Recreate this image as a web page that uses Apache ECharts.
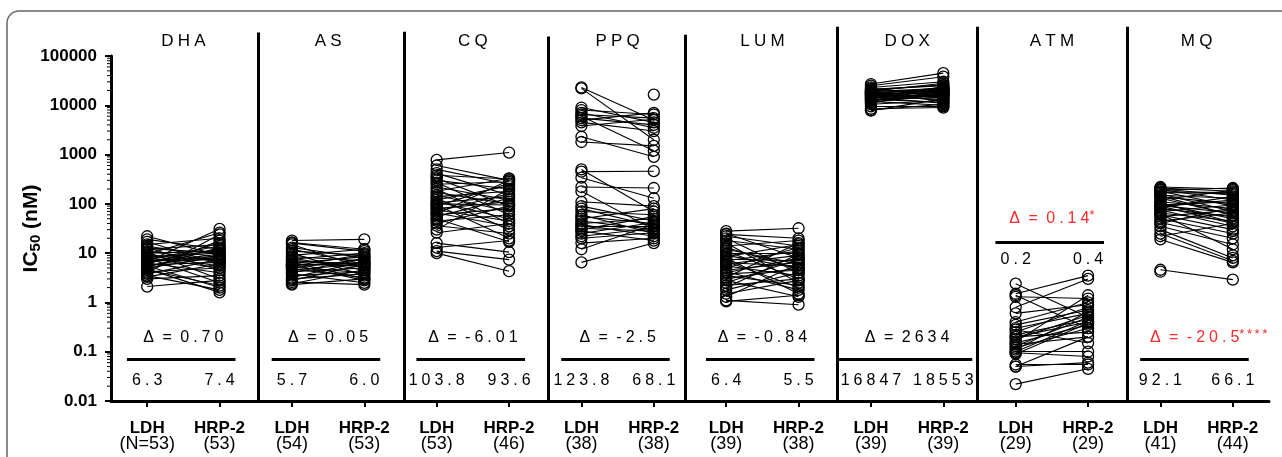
<!DOCTYPE html>
<html>
<head>
<meta charset="utf-8">
<script src="https://cdn.jsdelivr.net/npm/echarts@6/dist/echarts.min.js"></script>
<style>
html, body { margin: 0; padding: 0; background: #fff; }
#main { width: 1282px; height: 457px; }
</style>
</head>
<body>
<div id="main"></div>
<script>
// panels / labels
var panelNames = ['DHA', 'AS', 'CQ', 'PPQ', 'LUM', 'DOX', 'ATM', 'MQ'];
var groupLabels = ['LDH', 'HRP-2'];
var nLabels = ['(N=53)', '(53)', '(54)', '(53)', '(53)', '(46)', '(38)', '(38)',
               '(39)', '(38)', '(39)', '(39)', '(29)', '(29)', '(41)', '(44)'];
var deltaText = ['Δ = 0.70', 'Δ = 0.05', 'Δ = -6.01', 'Δ = -2.5', 'Δ = -0.84', 'Δ = 2634', 'Δ = 0.14', 'Δ = -20.5'];
var deltaStars = ['', '', '', '', '', '', '*', '****'];
var medianLdh = ['6.3', '5.7', '103.8', '123.8', '6.4', '16847', '0.2', '92.1'];
var medianHrp = ['7.4', '6.0', '93.6', '68.1', '5.5', '18553', '0.4', '66.1'];
var yTickLabels = ['0.01', '0.1', '1', '10', '100', '1000', '10000', '100000'];

// IC50 values (nM), paired by index; null = no value in that group
var dhaLdh = [22, 19, 17, 15, 14, 13, 12.5, 12, 11, 10.5, 10, 9.5, 9.2, 9, 8.5, 8.2, 8, 7.5, 7.2, 7, 6.8, 6.6, 6.5, 6.3, 6, 5.8, 5.6, 5.5, 5.2, 5, 4.8, 4.6, 4.5, 4.2, 4, 3.8, 3.5, 3.3, 3, 2.1];
var dhaHrp = [9, 12, 6, 20, 8, 4.5, 10, 15, 7, 3, 11, 26, 7, 5.5, 10, 5, 2.5, 14, 8, 7.4, 31, 12, 9.5, 4, 16, 6.5, 9, 2, 13, 8.5, 1.6, 2.2, 18, 5, 24, 7.5, 1.8, 6, 3.5, 2.8];

var asLdh = [18, 16.5, 16, 15, 13, 12, 11, 10, 9, 8.5, 8, 7.5, 7.2, 7, 6.5, 6.2, 6, 5.9, 5.8, 5.6, 5.4, 5.2, 5, 4.8, 4.5, 4.2, 4, 3.8, 3.5, 3.2, 3, 2.8, 2.6, 2.4, 2.3, 5.5];
var asHrp = [19, 12, 11, 5, 8, 6, 9, 3.5, 12, 7, 4.5, 10, 5.2, 6, 3, 8.5, 5.5, 6.1, 2.8, 6.5, 9.5, 4, 7.5, 3.2, 6.2, 5, 8, 2.5, 4.2, 6.8, 3.8, 5.8, 2.3, 4.6, 3, null];

var cqLdh = [780, 600, 500, 420, 380, 350, 330, 300, 270, 250, 220, 200, 180, 170, 150, 140, 130, 120, 110, 105, 100, 95, 90, 85, 80, 75, 70, 65, 62, 60, 55, 50, 48, 45, 40, 36, 30, 26, 16, 13, 11, 10];
var cqHrp = [1100, 300, 250, 150, 320, null, 90, 200, 60, 280, 120, 40, 330, 100, 70, 180, 30, 230, 50, 140, 95, 20, 260, null, 110, 45, 160, 35, 300, 80, 130, 17, null, 60, 90, 25, 200, 40, 10.5, 18, 7.4, 4.3];

var ppqLdh = [23000, 22000, 9000, 8000, 7000, 6500, 6000, 5500, 5000, 4500, 3800, 2300, 1800, 500, 450, 340, 220, 180, 110, 90, 80, 70, 60, 55, 50, 45, 40, 38, 35, 32, 30, 28, 25, 22, 20, 16, 12, 6.5, null];
var ppqHrp = [5000, 2000, 4500, 6500, 3500, 5500, 1200, 4000, 7000, 3000, 5200, 900, 1500, 70, 460, 130, 210, 30, 90, 45, 35, 60, 25, 40, 80, 30, 50, 22, 35, 28, 55, 18, 42, 32, 26, 20, 38, 16, 16500];

var lumLdh = [28, 25, 24, 22, 20, 18, 16, 14, 13, 12, 11, 10, 9.5, 9, 8.5, 8, 7.5, 7, 6.8, 6.4, 6, 5.5, 5, 4.5, 4.2, 4, 3.8, 3.5, 3.2, 3, 2.8, 2.5, 2.2, 2, 1.8, 1.5, 1.3, 1.1, 1.05];
var lumHrp = [32, 8, 20, 14, 4, 12, 2.5, 18, 4.8, 6, 3, 10, null, 5, 15, 1.5, 7, 11, 2, 5.5, 9, 3.5, 13, 6.5, 1.8, 8, 4.5, 2.2, 16, 5, 1.3, 7.5, 3, 9.5, 4, 2.8, 6, 0.9, 1.4];

var doxLdh = [27000, 25000, 23000, 22000, 21000, 20500, 20000, 19500, 19200, 19000, 18500, 18200, 18000, 17800, 17500, 17000, 16800, 16500, 16200, 16000, 15500, 15200, 15000, 14500, 14200, 14000, 13500, 13200, 13000, 12500, 12200, 12000, 11500, 11000, 10500, 9500, 8500, 8000, 7800];
var doxHrp = [45000, 38000, 30000, 16000, 25000, 26000, 19000, 14000, 28000, 22000, 12000, 19800, 20000, 21500, 17000, 23000, 15000, 18500, 16000, 21000, 13000, 22000, 19500, 11000, 15500, 17500, 24000, 11500, 14500, 18000, 17000, 10000, 16500, 20500, 12500, 9500, 9000, 10500, 13500];

var atmLdh = [2.4, 1.5, 1.4, 1.3, 0.8, 0.6, 0.4, 0.35, 0.3, 0.28, 0.25, 0.22, 0.2, 0.2, 0.18, 0.16, 0.15, 0.14, 0.13, 0.12, 0.11, 0.1, 0.1, 0.095, 0.09, 0.055, 0.05, 0.05, 0.022];
var atmHrp = [0.5, 3.5, 0.3, 1.2, 3.0, 0.9, 1.0, 0.7, 0.6, 0.15, 0.8, 0.45, 0.4, 0.25, 0.55, 1.4, 0.35, 0.2, 0.5, 0.3, 0.65, 0.1, 0.42, 0.08, 0.38, 0.055, 0.06, 0.2, 0.045];

var mqLdh = [220, 210, 200, 195, 190, 180, 175, 170, 160, 150, 145, 140, 130, 120, 110, 105, 100, 95, 92, 90, 88, 85, 80, 75, 70, 65, 62, 60, 55, 50, 45, 42, 40, 35, 30, 25, 22, 19, 4.6, 4.2, null, null, null];
var mqHrp = [200, 180, 150, 120, 210, 90, 170, 160, 70, 130, 58, 100, 60, 190, 80, 42, 50, 110, 66, 40, 120, 140, 55, 35, 95, 45, 12, 30, 75, 25, 65, 20, 85, 15, 8, 7, 40, 6.5, 2.9, null, 200, 28, 9];

var minorSteps = [2, 3, 4, 5, 6, 7, 8, 9];

var panels = [[dhaLdh, dhaHrp], [asLdh, asHrp], [cqLdh, cqHrp], [ppqLdh, ppqHrp],
              [lumLdh, lumHrp], [doxLdh, doxHrp], [atmLdh, atmHrp], [mqLdh, mqHrp]];

var FONT = 'Liberation Sans, Arial, sans-serif';
var SP = '\u2005';

// letter spacing by hand: thin space between glyphs, wider around real spaces
function spaced(s, gap) {
  return s.replace(/(\S)(?=\S)/g, '$1' + gap).replace(/ /g, ' ' + gap);
}

// layout of the separators (hidden x axis units) and where annotations sit
var sepX = [1.53, 3.55, 5.54, 7.44, 9.53, 11.47, 13.54];
var sepTop = [300000, 310000, 250000, 270000, 390000, 390000, 390000];
function annot(i) {
  if (i === 6) return { delta: 50, bar: 16.9, med: 7.4 };
  return { delta: 0.19, bar: 0.071, med: 0.026 };
}

var xCats = [];
panelNames.forEach(function () { xCats.push(groupLabels[0], groupLabels[1]); });

var pairLines = [], circles = [], bars = [], seps = [];
var titleItems = [], deltaItems = [], medItems = [];

panels.forEach(function (p, i) {
  var x0 = 2 * i, x1 = 2 * i + 1;
  var n = Math.max(p[0].length, p[1].length);
  for (var j = 0; j < n; j++) {
    var a = p[0][j], b = p[1][j];
    if (a != null && b != null) pairLines.push({ coords: [[x0, a], [x1, b]] });
  }
  p[0].forEach(function (v) { if (v != null) circles.push([x0, v]); });
  p[1].forEach(function (v) { if (v != null) circles.push([x1, v]); });

  var an = annot(i);
  var ext = i === 5 ? [-0.44, 1.4] : [-0.28, 1.22];
  bars.push({ coords: [[x0 + ext[0], an.bar], [x0 + ext[1], an.bar]] });

  titleItems.push({ name: spaced(panelNames[i], SP), value: [x0 + 0.5, 196000] });

  var red = deltaStars[i] !== '';
  var txt = '{' + (red ? 'r' : 'k') + '|' + spaced(deltaText[i], SP) + '}';
  if (red) txt += '{s|' + spaced(deltaStars[i], '\u2009') + '}';
  var item = { name: txt, value: [x0 + 0.5, an.delta] };
  if (i === 7) item.label = { offset: [12, 0] };
  deltaItems.push(item);

  medItems.push({ name: spaced(medianLdh[i], SP), value: [x0, an.med] });
  medItems.push({ name: spaced(medianHrp[i], SP), value: [x1, an.med] });
});

sepX.forEach(function (x, k) {
  seps.push({ coords: [[x, 0.01], [x, sepTop[k]]] });
});

var minorTicks = [];
for (var d = -2; d < 5; d++) {
  minorSteps.forEach(function (m) { minorTicks.push([-0.5, m * Math.pow(10, d)]); });
}

var textSeries = function (data, label) {
  return {
    type: 'scatter', xAxisIndex: 1, yAxisIndex: 0, data: data,
    symbolSize: 1, itemStyle: { color: 'rgba(0,0,0,0)', opacity: 1 },
    clip: false, silent: true, z: 6,
    label: Object.assign({ show: true, position: 'inside', opacity: 1, formatter: function (p) { return p.name; } }, label)
  };
};

var chart = echarts.init(document.getElementById('main'), null, { renderer: 'canvas' });

var option = {
  animation: false,
  backgroundColor: '#fff',
  graphic: [{
    type: 'rect', silent: true, z: -1,
    shape: { x: 7, y: 11, width: 1300, height: 470, r: 12 },
    style: { fill: 'none', stroke: '#666', lineWidth: 1.5 }
  }],
  grid: { left: 111, right: 13, top: 56, bottom: 56, outerBoundsMode: 'none' },
  xAxis: [{
    type: 'category',
    data: xCats,
    boundaryGap: true,
    axisLine: { show: true, onZero: false, lineStyle: { color: '#000', width: 3 } },
    axisTick: { show: true, alignWithLabel: true, length: 6, lineStyle: { color: '#000', width: 2 } },
    splitLine: { show: false },
    axisLabel: {
      interval: 0, margin: 19,
      formatter: function (v, idx) { return '{g|' + v + '}\n{n|' + nLabels[idx] + '}'; },
      rich: {
        g: { fontFamily: FONT, fontSize: 17, fontWeight: 'bold', color: '#000', lineHeight: 16 },
        n: { fontFamily: FONT, fontSize: 18, color: '#000', lineHeight: 17 }
      }
    }
  }, {
    type: 'value', min: -0.5, max: 15.5, show: false
  }],
  yAxis: {
    type: 'log', logBase: 10, min: 0.01, max: 100000, interval: 1,
    name: '{a|IC}{s|50}{a| (nM)}',
    nameLocation: 'middle', nameGap: 68, nameMoveOverlap: false,
    nameTextStyle: {
      rich: {
        a: { fontFamily: FONT, fontSize: 21, fontWeight: 'bold', color: '#000', lineHeight: 24 },
        s: { fontFamily: FONT, fontSize: 15, fontWeight: 'bold', color: '#000', lineHeight: 24, verticalAlign: 'bottom' }
      }
    },
    axisLine: { show: true, onZero: false, lineStyle: { color: '#000', width: 3 } },
    axisTick: { show: true, length: 6, lineStyle: { color: '#000', width: 2 } },
    splitLine: { show: false },
    axisLabel: {
      fontFamily: FONT, fontSize: 17, fontWeight: 'bold', color: '#000', margin: 14,
      formatter: function (v) { return yTickLabels[Math.round(Math.log10(v)) + 2]; }
    }
  },
  series: [{
    type: 'lines', coordinateSystem: 'cartesian2d', xAxisIndex: 1, yAxisIndex: 0,
    data: pairLines, silent: true, z: 2,
    lineStyle: { color: '#000', width: 1.1, opacity: 1 }
  }, {
    type: 'scatter', xAxisIndex: 1, yAxisIndex: 0, data: circles,
    symbol: 'circle', symbolSize: 11, silent: true, z: 3,
    itemStyle: { color: 'rgba(255,255,255,0)', borderColor: '#000', borderWidth: 1.3, opacity: 1 }
  }, {
    type: 'lines', coordinateSystem: 'cartesian2d', xAxisIndex: 1, yAxisIndex: 0,
    data: bars, silent: true, z: 4,
    lineStyle: { color: '#000', width: 3, opacity: 1 }
  }, {
    type: 'lines', coordinateSystem: 'cartesian2d', xAxisIndex: 1, yAxisIndex: 0,
    data: seps, silent: true, clip: false, z: 4,
    lineStyle: { color: '#000', width: 3, opacity: 1 }
  }, {
    type: 'scatter', xAxisIndex: 1, yAxisIndex: 0, data: minorTicks,
    symbol: 'rect', symbolSize: [3, 1], symbolOffset: [-2.5, 0],
    clip: false, silent: true, z: 4,
    itemStyle: { color: '#000', opacity: 1 }
  },
  textSeries(titleItems, { fontFamily: FONT, fontSize: 17, color: '#000' }),
  textSeries(deltaItems, {
    rich: {
      k: { fontFamily: FONT, fontSize: 16, color: '#000', lineHeight: 20 },
      r: { fontFamily: FONT, fontSize: 16, color: '#ff2a2a', lineHeight: 20 },
      s: { fontFamily: FONT, fontSize: 13, color: '#ff2a2a', lineHeight: 20, verticalAlign: 'top' }
    }
  }),
  textSeries(medItems, { fontFamily: FONT, fontSize: 16, color: '#000' })
  ]
};

chart.setOption(option);
</script>
</body>
</html>
